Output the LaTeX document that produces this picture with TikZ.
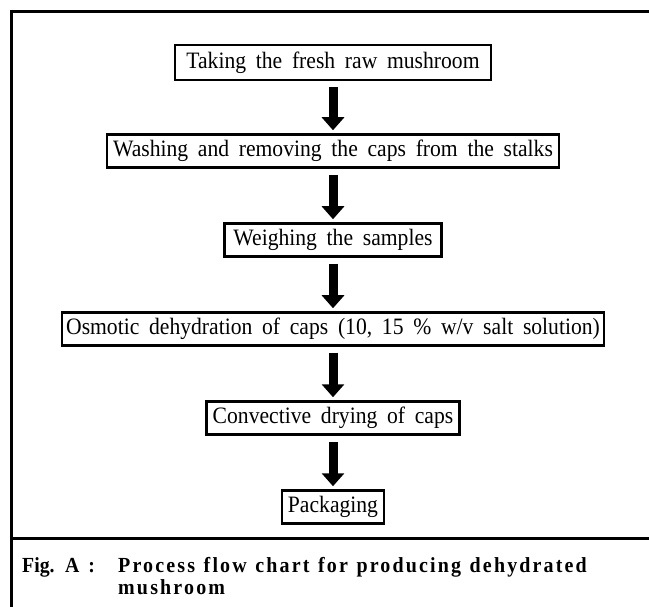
\documentclass[tikz,border=0pt]{standalone}
\usepackage{fontspec}
\setmainfont[WordSpace=1.8,FakeStretch=0.92]{Liberation Serif}
\newfontfamily\capfont[LetterSpace=10,WordSpace=1.2,FakeStretch=0.93]{Liberation Serif}
\usetikzlibrary{arrows.meta}

\tikzset{
  stepbox/.style={draw,line width=2.5pt,inner xsep=6pt,minimum height=33pt,
    font=\fontsize{23.5}{26}\selectfont},
  flow/.style={line width=9pt,-{Triangle[width=22pt,length=13pt]},
    shorten <=6pt,shorten >=3pt},
  capstyle/.style={inner sep=0pt,font=\capfont\bfseries\fontsize{21.5}{22}\selectfont}
}

\begin{document}
\begin{tikzpicture}[x=1pt,y=-1pt]
\useasboundingbox (0,0) rectangle (649,607);
% frame
\draw[line width=3pt] (649,11.5) -- (11,11.5) -- (11,607);
\draw[line width=3pt] (11,538) -- (649,538);

% steps
\node[stepbox,inner xsep=11.5pt,minimum height=35pt] (take) at (333,62.5) {Taking the fresh raw mushroom};
\node[stepbox] (wash) at (333,151) {Washing and removing the caps from the stalks};
\node[stepbox,inner xsep=9pt] (weigh) at (333,240) {Weighing the samples};
\node[stepbox,inner xsep=4pt] (osmo) at (333,329) {Osmotic dehydration of caps (10, 15 \% w/v salt solution)};
\node[stepbox] (dry) at (333,418) {Convective drying of caps};
\node[stepbox] (pack) at (333,507) {Packaging};

\foreach \from/\to in {take/wash,wash/weigh,weigh/osmo,osmo/dry,dry/pack}
  \draw[flow] (\from) -- (\to);

% caption
\node[inner sep=0pt,font=\bfseries\fontsize{21.5}{22}\selectfont,anchor=base west] (figlab) at (22,572) {Fig. A :};
\node[capstyle,anchor=base west,align=left] (figtxt) at (118,594) {Process flow chart for producing dehydrated\\mushroom};
\end{tikzpicture}
\end{document}
